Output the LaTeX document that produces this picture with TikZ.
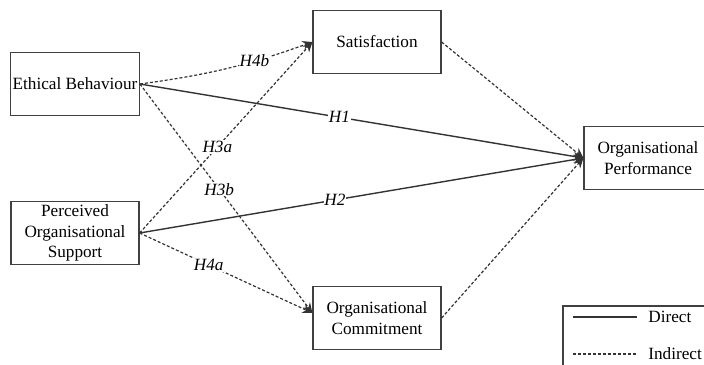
\documentclass[tikz,border=0pt]{standalone}
\usepackage{fontspec}
\setmainfont{Liberation Serif}
\usetikzlibrary{arrows.meta}

\begin{document}
\begin{tikzpicture}[x=0.5pt,y=-0.5pt,
    box/.style={draw=black!75,line width=0.6pt,minimum width=64pt,minimum height=31.5pt,align=center,inner sep=1pt,font=\fontsize{8.6}{10.3}\selectfont},
    direct/.style={draw=black!80,line width=0.7pt,-{Stealth[length=5pt,width=4.5pt]}},
    indirect/.style={draw=black!80,line width=0.6pt,dash pattern=on 1.5pt off 1pt,-{Stealth[length=5pt,width=4.5pt]}},
    hyp/.style={font=\fontsize{8.6}{10.3}\selectfont\itshape,fill=white,inner sep=0.4pt},
    lgtext/.style={anchor=west,inner sep=0pt,font=\fontsize{8.6}{10.3}\selectfont}]
    \useasboundingbox (0,0) rectangle (704,364);
    \clip (0,0) rectangle (704,364);

    \node[box] (eb) at (75,84) {Ethical Behaviour};
    \node[box] (pos) at (75,233) {Perceived\\Organisational\\Support};
    \node[box] (sat) at (377,42) {Satisfaction};
    \node[box] (oc) at (377,318) {Organisational\\Commitment};
    \node[box] (op) at (648,158) {Organisational\\Performance};

    % direct paths
    \draw[direct] (eb.east) -- node[hyp,pos=0.45] {H1} (op.west);
    \draw[direct] (pos.east) -- node[hyp,pos=0.44] {H2} (op.west);

    % indirect paths
    \draw[indirect] (eb.east) to[bend right=6] node[hyp,pos=0.67] {H4b} (sat.west);
    \draw[indirect] (eb.east) -- node[hyp,pos=0.46] {H3b} ([yshift=2.5pt]oc.west);
    \draw[indirect] (pos.east) -- node[hyp,pos=0.45] {H3a} (sat.west);
    \draw[indirect] (pos.east) -- node[hyp,pos=0.4] {H4a} ([yshift=2.5pt]oc.west);
    \draw[indirect] (sat.east) -- (op.west);
    \draw[indirect] (oc.east) -- (op.west);

    % legend
    \draw[draw=black!75,line width=0.6pt] (563,306) rectangle (720,380);
    \coordinate (d1) at (573,317);
    \coordinate (d2) at (637,317);
    \coordinate (i1) at (573,354);
    \coordinate (i2) at (637,354);
    \draw[draw=black!80,line width=0.7pt] (d1) -- (d2);
    \draw[draw=black!80,line width=0.6pt,dash pattern=on 1.5pt off 1pt] (i1) -- (i2);
    \node[lgtext] (lgdirect) at (648,317) {Direct};
    \node[lgtext] (lgindirect) at (648,354) {Indirect};
\end{tikzpicture}
\end{document}
